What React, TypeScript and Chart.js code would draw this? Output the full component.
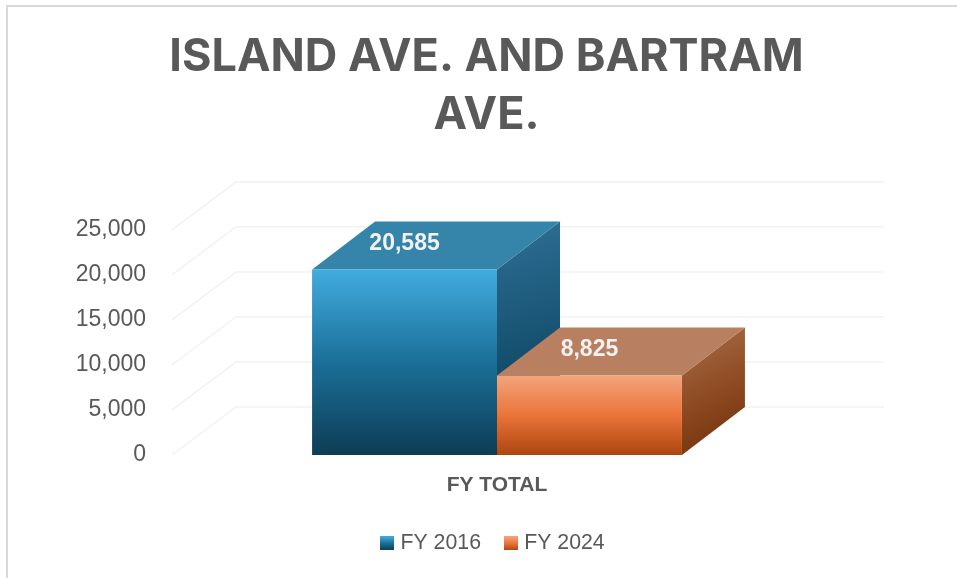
import React, { useEffect, useRef } from "react";
import { Chart, registerables } from "chart.js";

Chart.register(...registerables);

const categories = ["FY TOTAL"];
const fy2016 = [20585];
const fy2024 = [8825];
const seriesNames = ["FY 2016", "FY 2024"];
const titleLines = ["ISLAND AVE. AND BARTRAM", "AVE."];
const yTicks = [0, 5000, 10000, 15000, 20000, 25000];

const DEPTH_X = 63;
const DEPTH_Y = 48;
const GRID_END = 884;
const TICK_FONT = "'Liberation Sans', Arial, sans-serif";
const TITLE_FONT = "Inter, sans-serif";
const GREY = "#595959";

const FRONT = [
  ["#41acdf", "#1b6f98", "#0d3d56"],
  ["#f3a47c", "#ea7439", "#ad4510"],
];
const TOPS = ["#3585ab", "#b88060"];
const SIDES = [
  ["#2f7096", "#15506f", "#0c3c55"],
  ["#a86e4a", "#8c4820", "#6c2e07"],
];

const fmt = (v: number) => v.toLocaleString("en-US");

function vGrad(ctx: CanvasRenderingContext2D, top: number, bottom: number, c: string[]) {
  const g = ctx.createLinearGradient(0, top, 0, bottom);
  g.addColorStop(0, c[0]);
  g.addColorStop(0.5, c[1]);
  g.addColorStop(1, c[2]);
  return g;
}

function swatch(c: string[]) {
  const cv = document.createElement("canvas");
  cv.width = 14;
  cv.height = 14;
  const x = cv.getContext("2d")!;
  x.fillStyle = vGrad(x, 0, 14, c);
  x.fillRect(0, 0, 14, 14);
  return cv;
}

const wall3d = {
  id: "wall3d",
  afterLayout(chart: any) {
    chart.legend.left += 8;
    chart.legend.right += 8;
  },
  beforeDatasetsDraw(chart: any) {
    const { ctx, chartArea, scales } = chart;
    ctx.save();
    ctx.strokeStyle = "#f2f2f2";
    ctx.lineWidth = 1.5;
    for (const t of yTicks) {
      const y = scales.y.getPixelForValue(t);
      ctx.beginPath();
      ctx.moveTo(chartArea.left, y);
      ctx.lineTo(chartArea.left + DEPTH_X + 1, y - DEPTH_Y);
      ctx.lineTo(GRID_END, y - DEPTH_Y);
      ctx.stroke();
    }
    chart.data.datasets.forEach((_: any, i: number) => {
      const bar = chart.getDatasetMeta(i).data[0];
      const props = bar.getProps(["x", "y", "base", "width"], true);
      const l = props.x - props.width / 2;
      const r = props.x + props.width / 2;
      const t = props.y;
      const b = props.base;
      const side = ctx.createLinearGradient(r, t - DEPTH_Y, r + DEPTH_X, b);
      side.addColorStop(0, SIDES[i][0]);
      side.addColorStop(0.55, SIDES[i][1]);
      side.addColorStop(1, SIDES[i][2]);
      ctx.fillStyle = side;
      ctx.beginPath();
      ctx.moveTo(r, t);
      ctx.lineTo(r + DEPTH_X, t - DEPTH_Y);
      ctx.lineTo(r + DEPTH_X, b - DEPTH_Y);
      ctx.lineTo(r, b);
      ctx.closePath();
      ctx.fill();
      ctx.fillStyle = TOPS[i];
      ctx.beginPath();
      ctx.moveTo(l, t);
      ctx.lineTo(l + DEPTH_X, t - DEPTH_Y);
      ctx.lineTo(r + DEPTH_X, t - DEPTH_Y);
      ctx.lineTo(r, t);
      ctx.closePath();
      ctx.fill();
    });
    ctx.restore();
  },
  afterDatasetsDraw(chart: any) {
    const { ctx } = chart;
    ctx.save();
    ctx.fillStyle = "#f2f2f2";
    ctx.font = `bold 23px ${TICK_FONT}`;
    ctx.textAlign = "center";
    ctx.textBaseline = "middle";
    chart.data.datasets.forEach((ds: any, i: number) => {
      const bar = chart.getDatasetMeta(i).data[0];
      ctx.fillText(fmt(ds.data[0]), bar.x, bar.y - 26);
    });
    ctx.restore();
  },
};

export default function App() {
  const ref = useRef<HTMLCanvasElement | null>(null);
  useEffect(() => {
    const canvas = ref.current!;
    const barFill = (i: number) => (c: any) => {
      const yS = c.chart.scales.y;
      const ds = c.chart.data.datasets[i];
      if (!yS) return FRONT[i][1];
      return vGrad(c.chart.ctx, yS.getPixelForValue(ds.data[0]), yS.getPixelForValue(0), FRONT[i]);
    };
    const swatches = FRONT.map(swatch);
    const chart = new Chart(canvas, {
      type: "bar",
      data: {
        labels: categories,
        datasets: [
          { label: seriesNames[0], data: fy2016, backgroundColor: barFill(0) },
          { label: seriesNames[1], data: fy2024, backgroundColor: barFill(1) },
        ],
      },
      plugins: [wall3d],
      options: {
        responsive: false,
        animation: false,
        layout: { padding: { left: 16, right: 0, top: 28, bottom: 14 } },
        datasets: { bar: { categoryPercentage: 0.569, barPercentage: 1, borderWidth: 0 } },
        plugins: {
          tooltip: { enabled: false },
          title: {
            display: true,
            text: titleLines,
            color: GREY,
            font: { family: TITLE_FONT, size: 45, weight: "bold", lineHeight: 1.29 },
            padding: { top: 0, bottom: 85.7 },
          },
          legend: {
            position: "bottom",
            labels: {
              usePointStyle: true,
              pointStyleWidth: 5.5,
              boxHeight: 14,
              color: GREY,
              padding: 27,
              font: { family: TICK_FONT, size: 21.3 },
              generateLabels: (ch: any) =>
                ch.data.datasets.map((d: any, i: number) => ({
                  text: d.label,
                  pointStyle: swatches[i],
                  fillStyle: FRONT[i][1],
                  strokeStyle: "transparent",
                  lineWidth: 0,
                  fontColor: GREY,
                  datasetIndex: i,
                })),
            },
          },
        },
        scales: {
          x: {
            afterFit: (s: any) => { s.height = 50.7; },
            grid: { display: false, drawTicks: false },
            border: { display: false },
            ticks: { color: GREY, padding: 18, font: { family: TICK_FONT, size: 21, weight: "bold" } },
          },
          y: {
            min: 0,
            max: 25000,
            afterFit: (s: any) => { s.width = 156; },
            afterBuildTicks: (s: any) => { s.ticks = yTicks.map((value) => ({ value })); },
            grid: { display: false, drawTicks: false },
            border: { display: false },
            ticks: {
              color: GREY,
              padding: 26,
              font: { family: TICK_FONT, size: 23 },
              callback: (v: any) => fmt(Number(v)),
            },
          },
          y2: {
            position: "right",
            afterFit: (s: any) => { s.width = 135; },
            grid: { display: false, drawTicks: false },
            border: { display: false },
            ticks: { display: false },
          },
        },
      } as any,
    });
    return () => chart.destroy();
  }, []);
  return (
    <div style={{ position: "absolute", left: 0, top: 0, width: 957, height: 578, background: "#fff", overflow: "hidden" }}>
      <canvas ref={ref} width={957} height={578} style={{ display: "block" }} />
      <div style={{ position: "absolute", left: 6, top: 5, width: 951, height: 573, borderLeft: "2px solid #d9d9d9", borderTop: "2px solid #d9d9d9", boxSizing: "border-box" }} />
    </div>
  );
}
